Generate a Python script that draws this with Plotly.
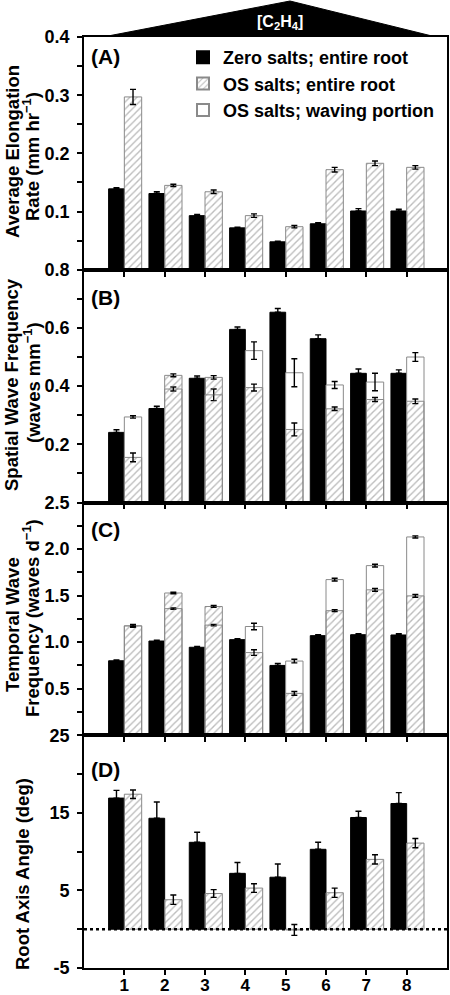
import plotly.graph_objects as go
from plotly.subplots import make_subplots

groups = [1, 2, 3, 4, 5, 6, 7, 8]
group_labels = ["1", "2", "3", "4", "5", "6", "7", "8"]
series_names = ["Zero salts; entire root", "OS salts; entire root", "OS salts; waving portion"]

# Panel A: average elongation rate (mm hr-1)
a_zero = [0.139, 0.131, 0.093, 0.072, 0.048, 0.079, 0.101, 0.101]
a_zero_err = [0.002, 0.003, 0.002, 0.001, 0.001, 0.002, 0.004, 0.003]
a_os = [0.297, 0.145, 0.134, 0.093, 0.074, 0.172, 0.183, 0.176]
a_os_err = [0.013, 0.002, 0.003, 0.003, 0.002, 0.004, 0.004, 0.003]

# Panel B: spatial wave frequency (waves mm-1)
b_zero = [0.241, 0.323, 0.427, 0.595, 0.654, 0.563, 0.444, 0.444]
b_zero_err = [0.009, 0.008, 0.008, 0.008, 0.013, 0.013, 0.015, 0.012]
b_os = [0.155, 0.437, 0.430, 0.395, 0.251, 0.322, 0.354, 0.348]
b_os_err = [0.015, 0.005, 0.006, 0.012, 0.022, 0.006, 0.007, 0.008]
b_wave = [0.294, 0.390, 0.370, 0.522, 0.446, 0.404, 0.414, 0.500]
b_wave_err = [0.004, 0.007, 0.020, 0.030, 0.048, 0.012, 0.030, 0.015]

# Panel C: temporal wave frequency (waves d-1)
c_zero = [0.800, 1.012, 0.945, 1.027, 0.750, 1.070, 1.080, 1.077]
c_zero_err = [0.010, 0.010, 0.010, 0.010, 0.020, 0.010, 0.010, 0.015]
c_os = [1.175, 1.528, 1.383, 0.888, 0.450, 1.338, 1.562, 1.497]
c_os_err = [0.010, 0.008, 0.010, 0.030, 0.020, 0.010, 0.015, 0.015]
c_wave = [1.175, 1.360, 1.183, 1.168, 0.797, 1.672, 1.822, 2.130]
c_wave_err = [0.015, 0.008, 0.008, 0.035, 0.020, 0.015, 0.015, 0.012]

# Panel D: root axis angle (deg)
d_zero = [16.9, 14.3, 11.2, 7.2, 6.7, 10.3, 14.4, 16.2]
d_zero_err = [1.0, 2.1, 1.3, 1.4, 1.7, 0.9, 0.8, 1.4]
d_os = [17.4, 3.8, 4.6, 5.3, -0.1, 4.7, 9.0, 11.1]
d_os_err = [0.55, 0.6, 0.5, 0.55, 0.7, 0.6, 0.6, 0.6]

FONT = "Liberation Sans, Arial, sans-serif"
W, H = 450, 995
L, R, T, B = 84, 3, 37, 27
PW, PH = W - L - R, H - T - B


def px_x(px):
    return (px - L) / PW


def px_y(py):
    return (H - B - py) / PH


fig = make_subplots(rows=4, cols=1, vertical_spacing=0)

HATCH = dict(shape="/", fgcolor="#7a7a7a", size=5, solidity=0.28, fillmode="overlay")
shown = set()


def add_zero(row, vals, errs):
    fig.add_trace(go.Bar(
        x=groups, y=vals, offset=-0.39, width=0.39, name=series_names[0],
        legendrank=1, showlegend=(0 not in shown),
        marker=dict(color="black", line=dict(color="black", width=1)),
        error_y=dict(type="data", array=errs, arrayminus=[0] * len(errs), symmetric=False,
                     color="black", thickness=1.4, width=3),
    ), row=row, col=1)
    shown.add(0)


def add_wave(row, vals, errs):
    fig.add_trace(go.Bar(
        x=groups, y=vals, offset=0, width=0.43, name=series_names[2],
        legendrank=3, showlegend=(2 not in shown),
        marker=dict(color="white", line=dict(color="#8a8a8a", width=1)),
        error_y=dict(type="data", array=errs, color="black", thickness=1.4, width=3),
    ), row=row, col=1)
    shown.add(2)


def add_os(row, vals, errs):
    fig.add_trace(go.Bar(
        x=groups, y=vals, offset=0, width=0.43, name=series_names[1],
        legendrank=2, showlegend=(1 not in shown),
        marker=dict(color="rgba(255,255,255,0)", pattern=HATCH,
                    line=dict(color="#8a8a8a", width=1)),
        error_y=dict(type="data", array=errs, color="black", thickness=1.4, width=3),
    ), row=row, col=1)
    shown.add(1)


add_zero(1, a_zero, a_zero_err)
add_os(1, a_os, a_os_err)

add_zero(2, b_zero, b_zero_err)
add_wave(2, b_wave, b_wave_err)
add_os(2, b_os, b_os_err)

add_zero(3, c_zero, c_zero_err)
add_wave(3, c_wave, c_wave_err)
add_os(3, c_os, c_os_err)

add_zero(4, d_zero, d_zero_err)
add_os(4, d_os, d_os_err)

tickfont = dict(family=FONT, size=18, color="black", weight="bold")
xtickfont = dict(family=FONT, size=17, color="black", weight="bold")
yspecs = [
    dict(range=[0, 0.4], tickvals=[0.1, 0.2, 0.3, 0.4], ticktext=["0.1", "0.2", "0.3", "0.4"],
         minor=[0.05, 0.15, 0.25, 0.35]),
    dict(range=[0, 0.8], tickvals=[0.2, 0.4, 0.6, 0.8], ticktext=["0.2", "0.4", "0.6", "0.8"],
         minor=[0.1, 0.3, 0.5, 0.7]),
    dict(range=[0, 2.5], tickvals=[0.5, 1.0, 1.5, 2.0, 2.5], ticktext=["0.5", "1.0", "1.5", "2.0", "2.5"],
         minor=[0.25, 0.75, 1.25, 1.75, 2.25]),
    dict(range=[-5, 25], tickvals=[-5, 5, 15, 25], ticktext=["-5", "5", "15", "25"],
         minor=[0, 10, 20]),
]
for i, s in enumerate(yspecs, start=1):
    fig.update_yaxes(
        range=s["range"], tickmode="array", tickvals=s["tickvals"], ticktext=s["ticktext"],
        ticks="outside", ticklen=5, tickwidth=1.5, tickcolor="black",
        minor=dict(tickmode="array", tickvals=s["minor"], ticks="outside", ticklen=5,
                   tickwidth=1.5, tickcolor="black"),
        showline=True, linecolor="black", linewidth=1.8, mirror=True,
        showgrid=False, zeroline=False, tickfont=tickfont, ticklabelstandoff=4,
        automargin=False,
        row=i, col=1)
    fig.update_xaxes(
        range=[0, 9], tickmode="array", tickvals=groups, ticktext=group_labels,
        ticks="outside", ticklen=5, tickwidth=1.5, tickcolor="black",
        showline=True, linecolor="black", linewidth=1.8, mirror=True,
        showgrid=False, zeroline=False, tickfont=xtickfont,
        showticklabels=(i == 4), ticklabelstandoff=-4, automargin=False,
        row=i, col=1)

# dotted zero line in panel D
fig.add_shape(type="line", xref="x4", yref="y4", x0=0, x1=9, y0=0, y1=0,
              line=dict(color="black", width=2.5, dash="dot"), layer="above")

# ethylene concentration wedge
fig.add_shape(type="path", xref="paper", yref="paper",
              path=f"M {px_x(108)},{px_y(36)} L {px_x(290)},{px_y(1)} L {px_x(432)},{px_y(36)} Z",
              fillcolor="black", line=dict(color="black", width=1), layer="above")

bold = lambda size, color="black": dict(family=FONT, size=size, color=color, weight="bold")

annots = [
    dict(text="[C<sub>2</sub>H<sub>4</sub>]", x=px_x(280), y=px_y(22), font=bold(16, "white")),
    dict(text="(A)", x=px_x(89), y=px_y(56), xanchor="left", font=bold(21)),
    dict(text="(B)", x=px_x(89), y=px_y(298), xanchor="left", font=bold(21)),
    dict(text="(C)", x=px_x(89), y=px_y(529), xanchor="left", font=bold(21)),
    dict(text="(D)", x=px_x(89), y=px_y(769), xanchor="left", font=bold(21)),
]
ytitles = [
    ("Average Elongation", 12, 152),
    ("Rate (mm hr<sup>−1</sup>)", 31, 157),
    ("Spatial Wave Frequency", 12, 385),
    ("(waves mm<sup>−1</sup>)", 32, 383),
    ("Temporal Wave", 12, 625),
    ("Frequency (waves d<sup>−1</sup>)", 31, 618),
    ("Root Axis Angle (deg)", 22, 874),
]
for txt, x, y in ytitles:
    annots.append(dict(text=txt, x=px_x(x), y=px_y(y), textangle=-90, font=bold(18.5)))
for a in annots:
    a.setdefault("xanchor", "center")
    fig.add_annotation(xref="paper", yref="paper", showarrow=False,
                       yanchor="middle", **a)

fig.update_layout(
    width=W, height=H,
    margin=dict(l=L, r=R, t=T, b=B, autoexpand=False),
    paper_bgcolor="white", plot_bgcolor="white",
    barmode="overlay",
    font=dict(family=FONT, color="black"),
    legend=dict(x=px_x(183), y=px_y(39), xanchor="left", yanchor="top",
                bgcolor="rgba(0,0,0,0)", borderwidth=0,
                font=bold(18),
                tracegroupgap=0, itemsizing="constant"),
)

fig.write_html("out.html", config={"displayModeBar": False},
               post_script="document.body.style.margin='0';document.body.style.overflow='hidden';")
